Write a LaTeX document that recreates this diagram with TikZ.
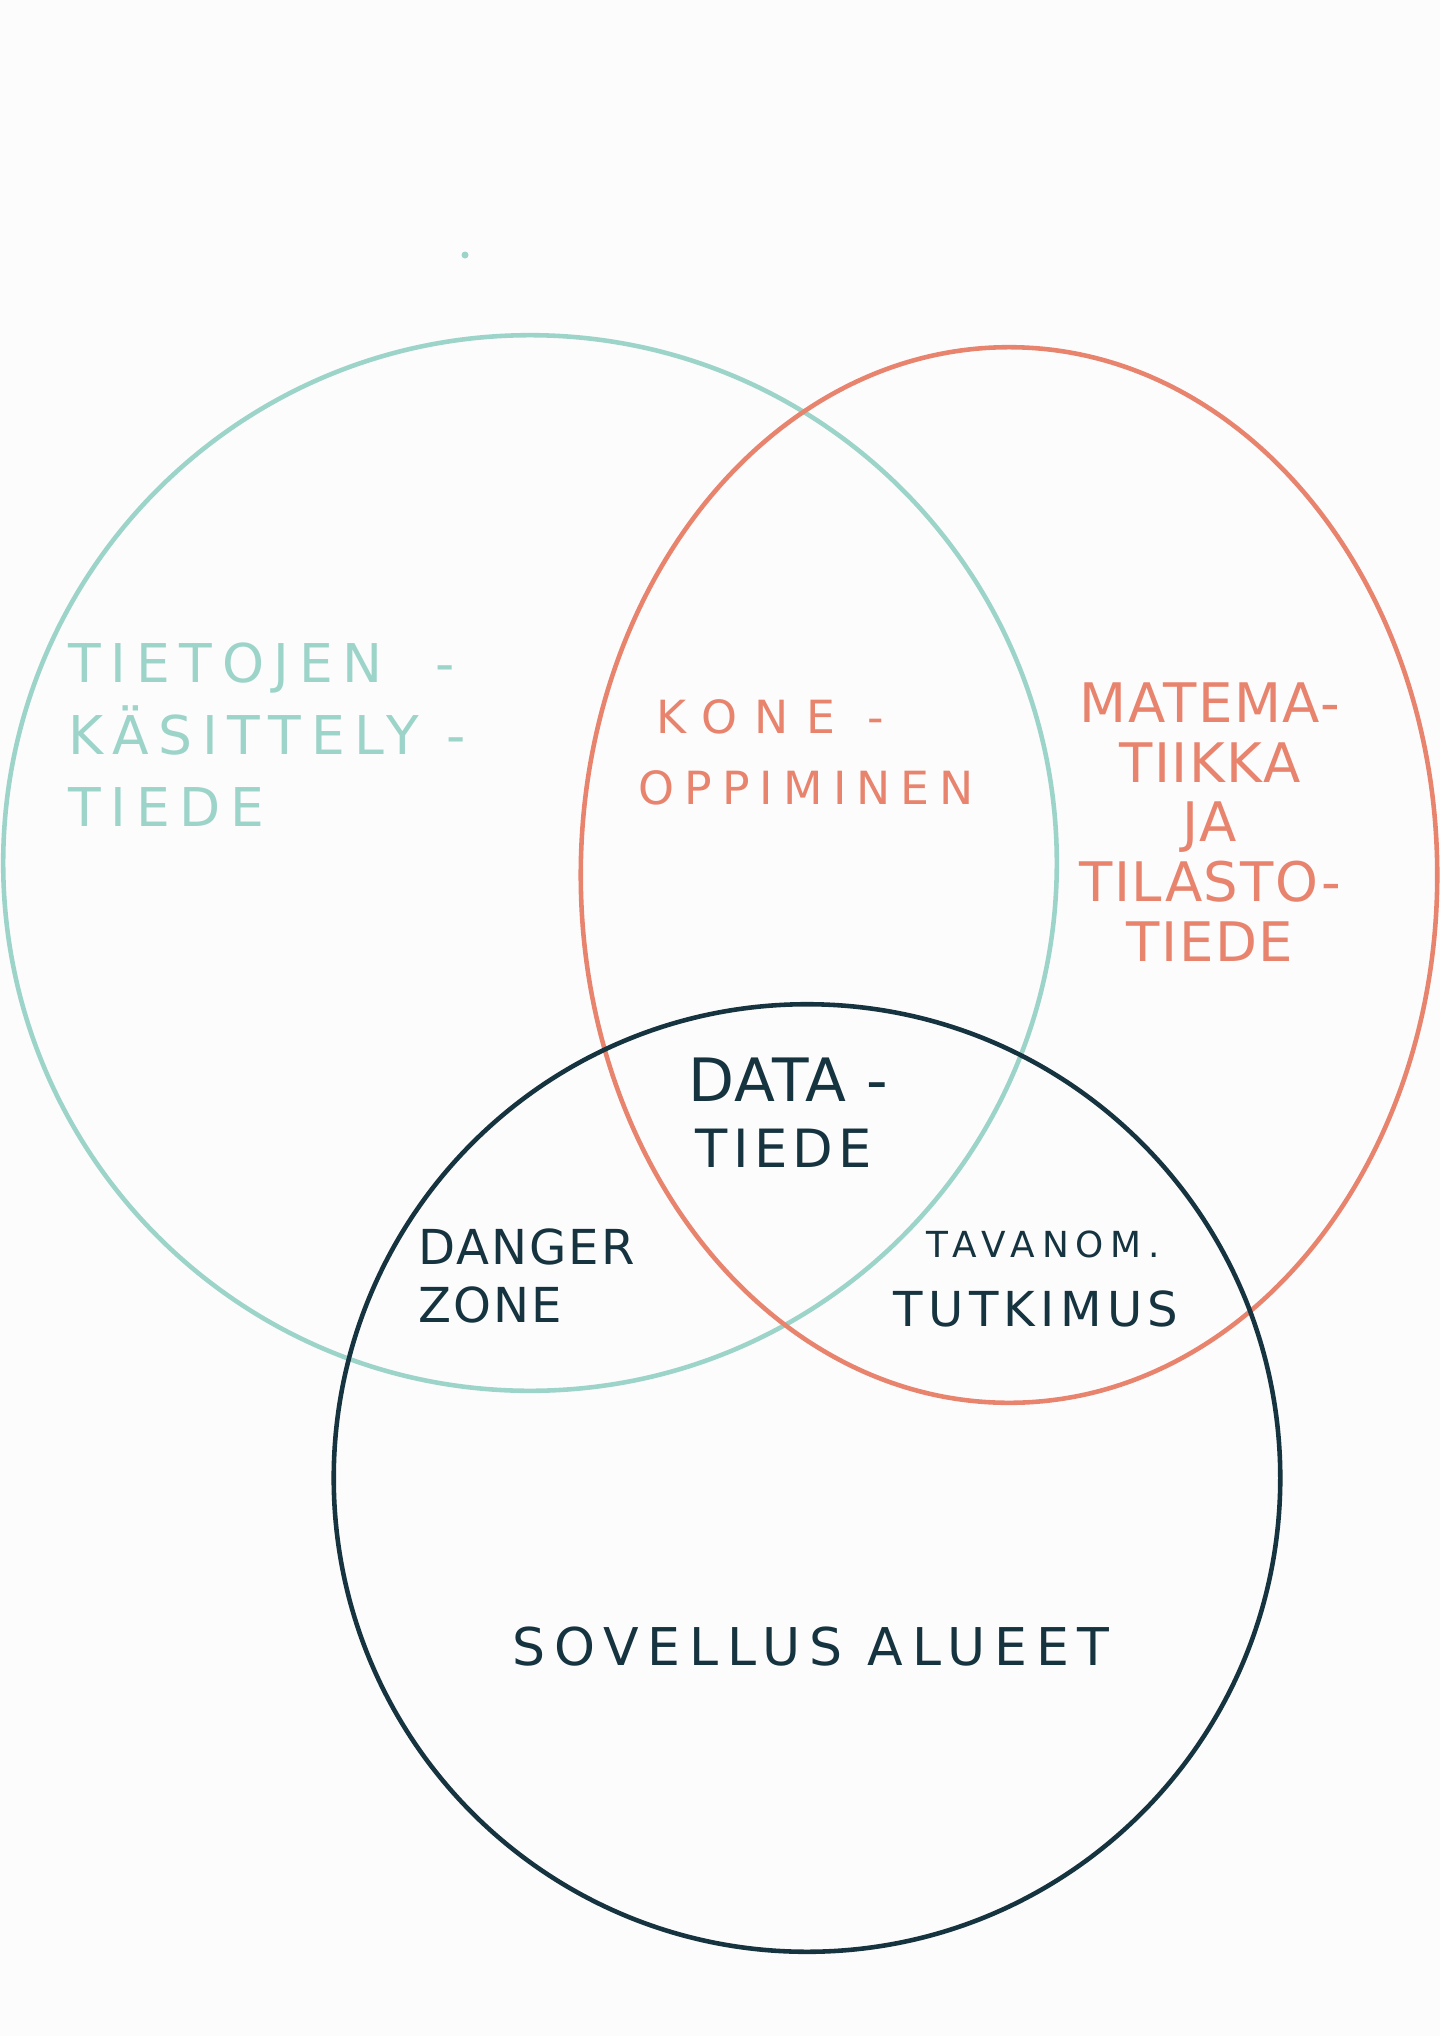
\documentclass[tikz,border=0pt]{standalone}
\usepackage{fontspec}
\newfontfamily\hand{DejaVu Sans}
% size, line skip, letter space
\newcommand\hw[3]{\hand\fontsize{#1}{#2}\addfontfeature{LetterSpace=#3}}
\definecolor{cscol}{HTML}{9DD4C9}
\definecolor{macol}{HTML}{E8836D}
\definecolor{apcol}{HTML}{163340}
\definecolor{paper}{HTML}{FCFCFC}
\begin{document}
\begin{tikzpicture}[x=0.01cm, y=-0.01cm,
  ring/.style={line width=1.3pt},
  lbl/.style={inner sep=0pt}]
\fill[paper] (0,0) rectangle (1440,2036);

\draw[ring, cscol] (530,863) ellipse [x radius=5.265cm, y radius=5.275cm];
\draw[ring, macol] (1009,875) ellipse [x radius=4.28cm, y radius=5.275cm];
\draw[ring, apcol] (807,1478) ellipse [x radius=4.73cm, y radius=4.735cm];
\fill[cscol] (465,255) circle [radius=0.035cm];

\node[lbl, cscol, anchor=west, align=left, font=\hw{15.2}{20.5}{18}] (t1) at (68,735) {TIETOJEN\ \ -\\KÄSITTELY -\\TIEDE};

\node[lbl, macol, anchor=west, font=\hw{13}{16}{38}] (k1) at (656,717) {KONE -};
\node[lbl, macol, anchor=west, font=\hw{13}{16}{22}] (k2) at (638,788) {OPPIMINEN};

\node[lbl, macol, align=center, font=\hw{15.5}{17}{3}] (m1) at (1210,822) {MATEMA-\\TIIKKA\\JA\\TILASTO-\\TIEDE};

\node[lbl, apcol, anchor=west, font=\hw{17}{20}{2}] (d1) at (688,1080) {DATA -};
\node[lbl, apcol, anchor=west, font=\hw{15}{18}{10}] (d2) at (695,1148) {TIEDE};

\node[lbl, apcol, anchor=west, align=left, font=\hw{13.7}{16.5}{4}] (z1) at (418,1276) {DANGER\\ZONE};

\node[lbl, apcol, anchor=west, font=\hw{10.2}{13}{19}] (r1) at (926,1244) {TAVANOM.};
\node[lbl, apcol, anchor=west, font=\hw{13.7}{16}{11}] (r2) at (893,1309) {TUTKIMUS};

\node[lbl, apcol, font=\hw{14.8}{17}{17}] (s1) at (811,1647) {SOVELLUS ALUEET};
\end{tikzpicture}
\end{document}
